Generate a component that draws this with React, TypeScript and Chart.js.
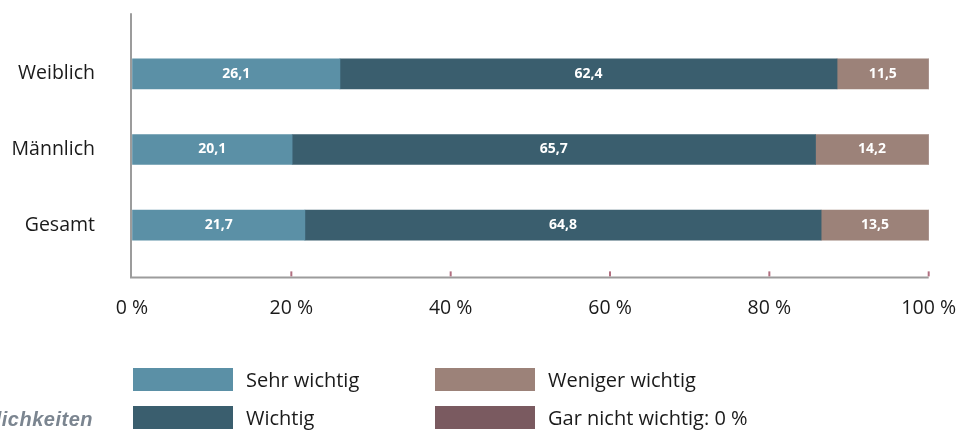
import React, { useEffect, useRef } from "react";
import { Chart, registerables } from "chart.js";

Chart.register(...registerables);

const categories = ["Weiblich", "Männlich", "Gesamt"];
const seriesNames = ["Sehr wichtig", "Wichtig", "Weniger wichtig", "Gar nicht wichtig"];
const sehrWichtig = [26.1, 20.1, 21.7];
const wichtig = [62.4, 65.7, 64.8];
const wenigerWichtig = [11.5, 14.2, 13.5];
const garNichtWichtig = [0, 0, 0];
const legendLabels = ["Sehr wichtig", "Wichtig", "Weniger wichtig", "Gar nicht wichtig: 0 %"];
const xTicks = [0, 20, 40, 60, 80, 100];
const colors = ["#5b90a6", "#3a5e6e", "#9c8279", "#7a5a60"];

const FONT = "'Open Sans', 'Noto Sans', sans-serif";

const fmt = (v: number) => v.toFixed(1).replace(".", ",");

const axisPlugin = {
  id: "customAxes",
  afterDraw(chart: any) {
    const { ctx, chartArea } = chart;
    const x = chart.scales.x;
    const band = (chartArea.bottom - chartArea.top) / categories.length;
    const top = chartArea.top - band * 0.3;
    const bottom = chartArea.bottom + band * 0.19;
    ctx.save();
    ctx.strokeStyle = "#9c9c9c";
    ctx.lineWidth = 2;
    ctx.beginPath();
    ctx.moveTo(chartArea.left - 1, top);
    ctx.lineTo(chartArea.left - 1, bottom);
    ctx.lineTo(chartArea.right, bottom);
    ctx.stroke();
    ctx.strokeStyle = "#b06f80";
    ctx.lineWidth = 2;
    xTicks.forEach((t) => {
      if (t === 0) return;
      const px = x.getPixelForValue(t);
      ctx.beginPath();
      ctx.moveTo(px, bottom - 1);
      ctx.lineTo(px, bottom - 6);
      ctx.stroke();
    });
    ctx.restore();
  },
};

const labelPlugin = {
  id: "barLabels",
  afterDatasetsDraw(chart: any) {
    const { ctx } = chart;
    ctx.save();
    ctx.fillStyle = "#ffffff";
    ctx.font = `bold 14px ${FONT}`;
    ctx.textAlign = "center";
    ctx.textBaseline = "middle";
    chart.data.datasets.forEach((ds: any, di: number) => {
      const meta = chart.getDatasetMeta(di);
      meta.data.forEach((bar: any, i: number) => {
        const v = ds.data[i];
        if (!v) return;
        const cx = (bar.x + bar.base) / 2;
        ctx.fillText(fmt(v), cx, bar.y);
      });
    });
    ctx.restore();
  },
};

export default function App() {
  const ref = useRef<HTMLCanvasElement>(null);

  useEffect(() => {
    document.body.style.margin = "0";
    const chart = new Chart(ref.current!, {
      type: "bar",
      data: {
        labels: categories,
        datasets: [sehrWichtig, wichtig, wenigerWichtig, garNichtWichtig].map((d, i) => ({
          label: seriesNames[i],
          data: d,
          backgroundColor: colors[i],
          borderWidth: 0,
          barThickness: 30,
        })),
      },
      options: {
        indexAxis: "y",
        animation: false,
        responsive: false,
        maintainAspectRatio: false,
        layout: { padding: { top: 36, right: 0, bottom: 112, left: 0 } },
        plugins: { legend: { display: false }, tooltip: { enabled: false } },
        scales: {
          x: {
            stacked: true,
            min: 0,
            max: 100,
            afterBuildTicks: (s: any) => {
              s.ticks = xTicks.map((v) => ({ value: v }));
            },
            grid: { display: true, drawOnChartArea: false, drawTicks: true, tickLength: 32, color: "rgba(0,0,0,0)" },
            border: { display: false },
            ticks: {
              padding: 2,
              color: "#1a1a1a",
              font: { family: FONT, size: 19.5 },
              callback: (v: any) => `${v} %`,
            },
            afterFit: (s: any) => {
              s.height = 60;
            },
          },
          y: {
            stacked: true,
            grid: { display: true, drawOnChartArea: false, drawTicks: true, tickLength: 35, color: "rgba(0,0,0,0)" },
            border: { display: false },
            ticks: {
              padding: 2,
              color: "#1a1a1a",
              font: { family: FONT, size: 19.5 },
            },
            afterFit: (s: any) => {
              s.width = 132;
            },
          },
        },
      },
      plugins: [axisPlugin, labelPlugin],
    });
    return () => chart.destroy();
  }, []);

  const legendPos = [
    { left: 133, top: 368 },
    { left: 133, top: 406 },
    { left: 435, top: 368 },
    { left: 435, top: 406 },
  ];

  return (
    <div style={{ position: "relative", width: 958, height: 435, overflow: "hidden", fontFamily: FONT }}>
      <canvas ref={ref} width={958} height={435} style={{ position: "absolute", left: 0, top: 0 }} />
      {legendLabels.map((l, i) => (
        <div key={l} style={{ position: "absolute", left: legendPos[i].left, top: legendPos[i].top, display: "flex", alignItems: "center", height: 23 }}>
          <div style={{ width: 100, height: 23, background: colors[i] }} />
          <span style={{ marginLeft: 13, fontSize: 20, lineHeight: "23px", color: "#1a1a1a", whiteSpace: "nowrap" }}>{l}</span>
        </div>
      ))}
      <div
        style={{
          position: "absolute",
          right: 958 - 93,
          top: 409,
          fontFamily: "'Liberation Sans', Arial, sans-serif",
          fontWeight: "bold",
          fontStyle: "italic",
          fontSize: 20,
          lineHeight: "20px",
          letterSpacing: 0.5,
          color: "#7b8590",
          whiteSpace: "nowrap",
        }}
      >
        Möglichkeiten
      </div>
    </div>
  );
}
